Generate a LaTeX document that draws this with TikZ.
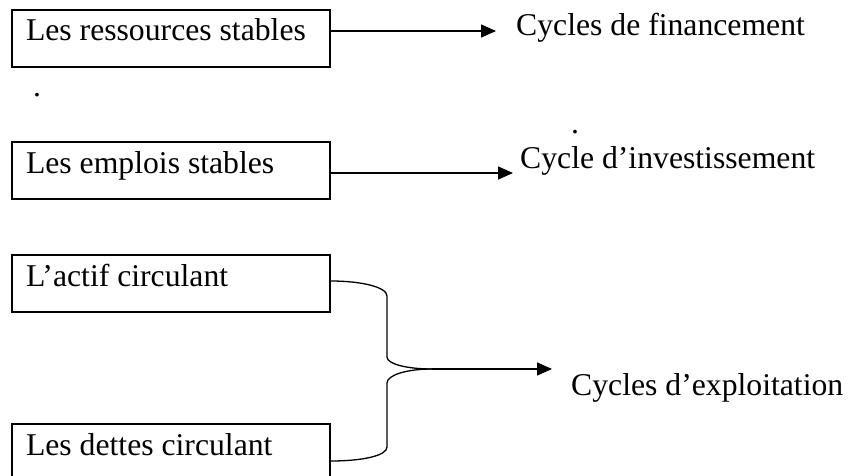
\documentclass[tikz,border=0pt]{standalone}
\usepackage{fontspec}
\setmainfont{Liberation Serif}
\usetikzlibrary{arrows.meta,calc}
\tikzset{
  box/.style={draw, line width=2pt, anchor=north west, minimum width=318pt,
    text width=290pt, align=flush left, inner xsep=14pt, inner ysep=0pt,
    text height=31pt, text depth=26pt, font=\fontsize{31.7}{38}\selectfont},
  lbl/.style={anchor=base west, inner sep=0pt, font=\fontsize{31.7}{38}\selectfont},
  arr/.style={line width=1.5pt, -{Triangle[length=15pt,width=13pt]}},
  brace/.style={line width=1.3pt}
}
\begin{document}
\begin{tikzpicture}[x=1pt,y=-1pt]
\fill[white] (0,0) rectangle (848,476);
\useasboundingbox (0,0) rectangle (848,476);
\begin{scope}
\clip (0,0) rectangle (848,476);
\node[box] (b1) at (11,9) {Les ressources stables};
\node[box] (b2) at (11,141) {Les emplois stables};
\node[box] (b3) at (11,254) {L’actif circulant};
\node[box] (b4) at (11,423) {Les dettes circulant};

\node[lbl] (t1) at (516,36) {Cycles de financement};
\node[lbl] (t2) at (520,168) {Cycle d’investissement};
\node[lbl] (t3) at (571,395) {Cycles d’exploitation};
\node[lbl] (d1) at (33,97) {.};
\node[lbl] (d2) at (571,133) {.};

\draw[arr] ($(b1.north east)+(0,22)$) -- ($(t1.base west)+(-20,-5)$);
\draw[arr] ($(b2.north east)+(0,32)$) -- ($(t2.base west)+(-7,5)$);

\coordinate (c) at (432,369);
\draw[brace] ($(b3.north east)+(0,27)$) .. controls (361,281) and (387,287) .. (387,296)
  -- (387,357) .. controls (387,364) and (407,369) .. (c);
\draw[brace] (c) .. controls (407,369) and (387,375) .. (387,383)
  -- (387,447) .. controls (387,456) and (361,461) .. ($(b4.north east)+(0,38)$);
\draw[arr] (c) -- ($(t3.base west)+(-19,-26)$);
\end{scope}
\end{tikzpicture}
\end{document}
